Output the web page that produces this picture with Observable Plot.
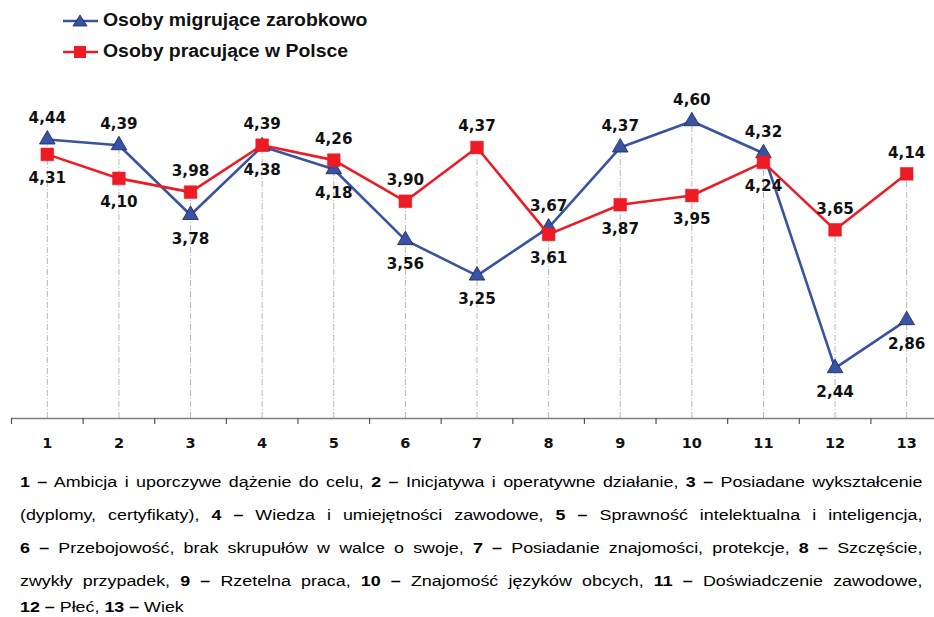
<!DOCTYPE html>
<html>
<head>
<meta charset="utf-8">
<script src="https://cdn.jsdelivr.net/npm/d3@7"></script>
<script src="https://cdn.jsdelivr.net/npm/@observablehq/plot@0.6"></script>
<style>
  html, body { margin: 0; padding: 0; background: #fff; }
  body { width: 934px; height: 617px; position: relative; overflow: hidden; font-family: "Liberation Sans", Arial, sans-serif; }
  #legend { position: absolute; left: 62px; top: 5px; font-weight: bold; font-size: 17.5px; color: #111; }
  #legend .row { display: flex; align-items: center; height: 31px; }
  #legend svg { margin-right: 4px; }
  #legend span { display: inline-block; transform: scaleX(1.11); transform-origin: left center; }
  #chart { position: absolute; left: 0; top: 0; }
  #caption { position: absolute; left: 20px; top: 465px; width: 778px; transform: scaleX(1.16); transform-origin: left top; font-family: "Liberation Sans", Arial, sans-serif; font-size: 15.4px; line-height: 33px; color: #000; }
  #caption .ln { white-space: nowrap; text-align: justify; text-align-last: justify; }
  #caption .ln.last { text-align-last: left; margin-top: -7px; }
  #caption b { font-weight: bold; }
</style>
</head>
<body>
<div id="chart"></div>
<div id="legend"></div>
<div id="caption"></div>
<script>
const categories = [1, 2, 3, 4, 5, 6, 7, 8, 9, 10, 11, 12, 13];
const migrujace = [4.44, 4.39, 3.78, 4.38, 4.18, 3.56, 3.25, 3.67, 4.37, 4.60, 4.32, 2.44, 2.86];
const polska = [4.31, 4.10, 3.98, 4.39, 4.26, 3.90, 4.37, 3.61, 3.87, 3.95, 4.24, 3.65, 4.14];
const seriesNames = ["Osoby migrujące zarobkowo", "Osoby pracujące w Polsce"];
const captionLines = [
  "1 – Ambicja i uporczywe dążenie do celu, 2 – Inicjatywa i operatywne działanie, 3 – Posiadane wykształcenie",
  "(dyplomy, certyfikaty), 4 – Wiedza i umiejętności zawodowe, 5 – Sprawność intelektualna i inteligencja,",
  "6 – Przebojowość, brak skrupułów w walce o swoje, 7 – Posiadanie znajomości, protekcje, 8 – Szczęście,",
  "zwykły przypadek, 9 – Rzetelna praca, 10 – Znajomość języków obcych, 11 – Doświadczenie zawodowe,",
  "12 – Płeć, 13 – Wiek"
];

const blue = "#3953a4";
const red = "#ed1c24";
const fmt = v => v.toFixed(2).replace(".", ",");

const rows = categories.map((c, i) => ({c, a: migrujace[i], b: polska[i]}));
const labels = [];
rows.forEach(r => {
  const aTop = r.a >= r.b;
  labels.push({c: r.c, v: r.a, pos: aTop ? "above" : "below"});
  labels.push({c: r.c, v: r.b, pos: aTop ? "below" : "above"});
});
const edges = d3.range(0.5, 14, 1);
const labelFont = "'DejaVu Sans', 'Liberation Sans', sans-serif";

const chart = Plot.plot({
  width: 934,
  height: 460,
  marginTop: 75,
  marginBottom: 42,
  marginLeft: 11,
  marginRight: 0,
  x: {domain: [0.5, 13.5], range: [11, 942], label: null, axis: null},
  y: {domain: [2, 5], axis: null, label: null},
  style: {fontFamily: labelFont, background: "white"},
  marks: [
    Plot.ruleX(rows, {x: "c", y1: 2, y2: d => Math.max(d.a, d.b), stroke: "#b8b8b8", strokeWidth: 1, strokeDasharray: "6,2,1,2"}),
    Plot.ruleY([2], {stroke: "#808080", strokeWidth: 1.5}),
    Plot.axisX({ticks: edges, tickSize: 6, tickFormat: () => "", stroke: "#555", strokeWidth: 1.2, label: null}),
    Plot.axisX({ticks: categories, tickSize: 0, tickPadding: 19, fontSize: 14.5, fontWeight: "bold", fill: "#111", tickFormat: d => String(d), label: null}),
    Plot.line(rows, {x: "c", y: "a", stroke: blue, strokeWidth: 2.6}),
    Plot.dot(rows, {x: "c", y: "a", symbol: "triangle", r: 5.8, fill: blue, stroke: "#1d2550", strokeWidth: 0.8}),
    Plot.line(rows, {x: "c", y: "b", stroke: red, strokeWidth: 2.6}),
    Plot.dot(rows, {x: "c", y: "b", symbol: "square", r: 7.2, fill: red, stroke: red, strokeWidth: 0.5}),
    Plot.text(labels.filter(d => d.pos === "above"), {x: "c", y: "v", text: d => fmt(d.v), dy: -21, fontSize: 15.2, fontWeight: "bold", fill: "#111"}),
    Plot.text(labels.filter(d => d.pos === "below"), {x: "c", y: "v", text: d => fmt(d.v), dy: 24, fontSize: 15.2, fontWeight: "bold", fill: "#111"})
  ]
});
document.getElementById("chart").appendChild(chart);

const legend = document.getElementById("legend");
const mk = (color, shape, name) => {
  const row = document.createElement("div");
  row.className = "row";
  const marker = shape === "triangle"
    ? `<polygon points="18,3 25,14 11,14" fill="${color}" stroke="#1d2550" stroke-width="0.8"/>`
    : `<rect x="12" y="3" width="12" height="12" fill="${color}"/>`;
  row.innerHTML = `<svg width="37" height="18"><line x1="1" y1="9" x2="36" y2="9" stroke="${color}" stroke-width="2.6"/>${marker}</svg><span>${name}</span>`;
  legend.appendChild(row);
};
mk(blue, "triangle", seriesNames[0]);
mk(red, "square", seriesNames[1]);

const cap = document.getElementById("caption");
captionLines.forEach((line, i) => {
  const div = document.createElement("div");
  div.className = "ln" + (i === captionLines.length - 1 ? " last" : "");
  div.innerHTML = line.replace(/(\d+ –)/g, "<b>$1</b>");
  cap.appendChild(div);
});
</script>
</body>
</html>
